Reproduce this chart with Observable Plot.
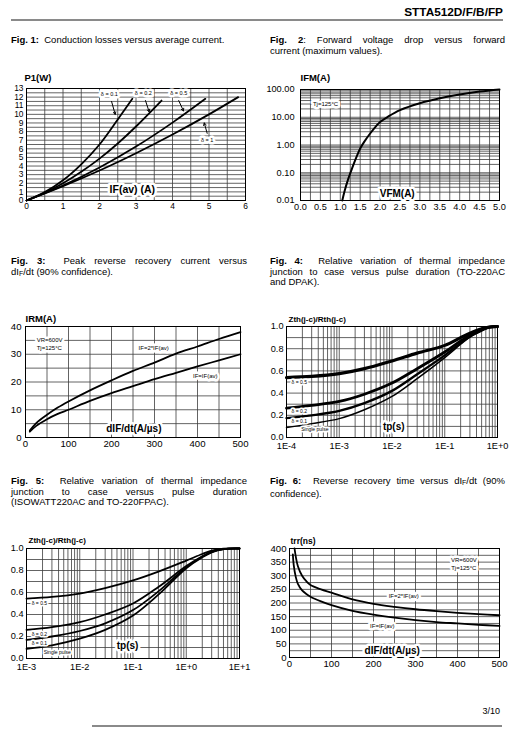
<!DOCTYPE html>
<html><head><meta charset="utf-8">
<script src="https://cdn.jsdelivr.net/npm/d3@7"></script>
<script src="https://cdn.jsdelivr.net/npm/@observablehq/plot@0.6"></script>
<style>
body{margin:0;background:#fff;font-family:"Liberation Sans",Arial,sans-serif;color:#000;}
#page{position:relative;width:527px;height:729px;overflow:hidden;background:#fff;}
.hdr{position:absolute;right:24px;top:5px;font-weight:bold;font-size:11.8px;}
.rule{position:absolute;height:2px;background:#8a8a8a;}
.cap{position:absolute;font-size:9.5px;line-height:10.6px;}
.cap div{text-align:justify;text-align-last:justify;white-space:nowrap;}
.cap div.last{text-align:left;text-align-last:left;}
.chart{position:absolute;}
.pg{position:absolute;right:27px;top:706px;font-size:9px;}
</style></head><body><div id="page">
<div class="hdr">STTA512D/F/B/FP</div>
<div class="rule" style="left:11px;width:492px;top:19px;"></div>

<div class="cap" style="left:11px;top:35px;width:236px;"><div class="last"><b>Fig. 1:</b>&nbsp; Conduction losses versus average current.</div></div>
<div class="cap" style="left:270px;top:35px;width:235px;"><div><b>Fig. 2</b>: Forward voltage drop versus forward</div><div class="last">current (maximum values).</div></div>
<div class="cap" style="left:11px;top:256px;width:236px;"><div><b>Fig. 3:</b>&nbsp; Peak reverse recovery current versus</div><div class="last">dI<sub style="font-size:7px;vertical-align:-1px">F</sub>/dt (90% confidence).</div></div>
<div class="cap" style="left:270px;top:256px;width:235px;"><div><b>Fig. 4:</b>&nbsp; Relative variation of thermal impedance</div><div>junction to case versus pulse duration (TO-220AC</div><div class="last">and DPAK).</div></div>
<div class="cap" style="left:11px;top:476px;width:236px;"><div><b>Fig. 5:</b>&nbsp; Relative variation of thermal impedance</div><div>junction to case versus pulse duration</div><div class="last">(ISOWATT220AC and TO-220FPAC).</div></div>
<div class="cap" style="left:270px;top:476px;width:235px;"><div><b>Fig. 6:</b>&nbsp; Reverse recovery time versus dI<sub style="font-size:7px;vertical-align:-1px">F</sub>/dt (90%</div><div class="last">confidence).</div></div>

<div class="pg">3/10</div>
<div class="rule" style="left:92px;width:410px;top:725px;"></div>
</div>
<script>
// ---------- Fig. 1 data: conduction losses P1(W) vs IF(av)(A)
const f1Labels = ["δ = 0.1", "δ = 0.2", "δ = 0.5", "δ = 1"];
const f1IF_d01 = [0, 0.5, 1, 1.5, 2, 2.5, 2.9];
const f1P_d01  = [0, 0.97, 2.35, 4.2, 6.5, 9.4, 11.8];
const f1IF_d02 = [0, 0.5, 1, 1.5, 2, 2.5, 3, 3.7];
const f1P_d02  = [0, 0.89, 2.0, 3.33, 4.86, 6.62, 8.59, 11.6];
const f1IF_d05 = [0, 1, 2, 3, 4, 4.9];
const f1P_d05  = [0, 1.74, 3.83, 6.26, 9.04, 11.8];
const f1IF_d1  = [0, 1, 2, 3, 4, 5, 5.8];
const f1P_d1   = [0, 1.66, 3.48, 5.49, 7.66, 10.0, 12.0];
const f1XTicks = [0, 1, 2, 3, 4, 5, 6];
const f1YTicks = [0,1,2,3,4,5,6,7,8,9,10,11,12,13];
// label anchors (data units)
const f1LabX = [2.27, 3.2, 4.17, 4.95];
const f1LabY = [12.3, 12.4, 12.4, 7.0];
const f1ArrX1 = [2.33, 3.26, 4.17, 4.95];
const f1ArrY1 = [11.5, 11.6, 11.6, 7.8];
const f1ArrX2 = [2.43, 3.36, 4.3, 4.87];
const f1ArrY2 = [10.0, 10.3, 10.4, 9.0];

// ---------- Fig. 2 data: IFM(A) vs VFM
const f2V = [1.05, 1.1, 1.2, 1.3, 1.4, 1.5, 1.6, 1.75, 1.9, 2.0, 2.2, 2.5, 3.0, 3.5, 4.0, 4.5, 5.0];
const f2I = [0.01, 0.02, 0.06, 0.15, 0.35, 0.75, 1.3, 2.6, 4.8, 6.8, 10.5, 18, 32, 48, 66, 84, 100];
const f2XTicks = [0, 0.5, 1, 1.5, 2, 2.5, 3, 3.5, 4, 4.5, 5];
const f2YTicks = [0.01, 0.1, 1, 10, 100];

// ---------- Fig. 3 data: IRM(A) vs dIF/dt
const f3Names = ["IF=2*IF(av)", "IF=IF(av)"];
const f3X = [10, 25, 50, 75, 100, 150, 200, 250, 300, 350, 400, 450, 500];
const f3IRM_2x = [2.5, 5.2, 8.2, 10.8, 13, 17, 20.6, 24, 27, 30.2, 32.8, 35.5, 38];
const f3IRM_1x = [2.1, 4.2, 6.6, 8.5, 10, 13.2, 16, 18.5, 21, 23.3, 25.6, 27.8, 30];
const f3XTicks = [0, 100, 200, 300, 400, 500];
const f3YTicks = [0, 10, 20, 30, 40];

// ---------- Fig. 4 data: Zth/Rth vs tp (TO-220AC, DPAK)
const f4Names = ["δ = 0.5", "δ = 0.2", "δ = 0.1", "Single pulse"];
const f4Tp = [1e-4, 3e-4, 1e-3, 3e-3, 1e-2, 3e-2, 1e-1, 2e-1, 3e-1, 5e-1, 7e-1, 1];
const f4Z_d05 = [0.54, 0.55, 0.575, 0.62, 0.69, 0.76, 0.83, 0.9, 0.94, 0.98, 0.995, 1.0];
const f4Z_d02 = [0.265, 0.29, 0.325, 0.39, 0.49, 0.62, 0.77, 0.87, 0.92, 0.97, 0.995, 1.0];
const f4Z_d01 = [0.175, 0.2, 0.24, 0.31, 0.42, 0.57, 0.74, 0.85, 0.91, 0.965, 0.995, 1.0];
const f4Z_sp  = [0.09, 0.125, 0.17, 0.25, 0.37, 0.53, 0.72, 0.84, 0.905, 0.96, 0.995, 1.0];
const f4XTicks = [1e-4, 1e-3, 1e-2, 1e-1, 1];
const f4XLabels = ["1E-4", "1E-3", "1E-2", "1E-1", "1E+0"];
const f4YTicks = [0, 0.2, 0.4, 0.6, 0.8, 1.0];

// ---------- Fig. 5 data: Zth/Rth vs tp (ISOWATT220AC, TO-220FPAC)
const f5Tp = [1e-3, 3e-3, 1e-2, 3e-2, 1e-1, 3e-1, 1, 2, 3, 5, 10];
const f5Z_d05 = [0.545, 0.56, 0.59, 0.64, 0.71, 0.79, 0.89, 0.95, 0.98, 0.998, 1.0];
const f5Z_d02 = [0.26, 0.285, 0.33, 0.40, 0.50, 0.65, 0.84, 0.93, 0.97, 0.995, 1.0];
const f5Z_d01 = [0.17, 0.2, 0.25, 0.32, 0.44, 0.61, 0.83, 0.925, 0.97, 0.995, 1.0];
const f5Z_sp  = [0.088, 0.12, 0.18, 0.26, 0.39, 0.58, 0.82, 0.92, 0.965, 0.995, 1.0];
const f5XTicks = [1e-3, 1e-2, 1e-1, 1, 10];
const f5XLabels = ["1E-3", "1E-2", "1E-1", "1E+0", "1E+1"];

// ---------- Fig. 6 data: trr(ns) vs dIF/dt
const f6X_2x = [12, 15, 20, 30, 40, 50, 75, 100, 150, 200, 250, 300, 350, 400, 450, 500];
const f6T_2x = [400, 370, 335, 300, 280, 266, 250, 238, 213, 197, 186, 177, 170, 164, 159, 155];
const f6X_1x = [8, 10, 15, 20, 30, 40, 50, 75, 100, 150, 200, 250, 300, 350, 400, 450, 500];
const f6T_1x = [378, 340, 295, 270, 246, 233, 223, 206, 192, 171, 157, 146, 137, 130, 125, 120, 116];
const f6XTicks = [0, 100, 200, 300, 400, 500];
const f6YTicks = [0, 50, 100, 150, 200, 250, 300, 350, 400];

// ---------- helpers
const FONT = "'Liberation Sans', Arial, sans-serif";
const grid = {stroke: "#3c3c3c", strokeWidth: 0.8};
const rows = (xs, ys, k) => xs.map((x, i) => ({x, y: ys[i], k}));
const style = fs => ({fontFamily: FONT, fontSize: fs + "px", color: "#000", background: "transparent", overflow: "visible"});
const CURVE = "catmull-rom";
function place(svg, left, top) {
  const d = document.createElement("div");
  d.className = "chart"; d.style.left = left + "px"; d.style.top = top + "px";
  d.append(svg); document.getElementById("page").append(d);
}
function title(t, dy, fs, dx = 0) {
  return Plot.text([t], {frameAnchor: "top-left", text: d => d, dx, dy, textAnchor: "start", fontWeight: "bold", fontSize: fs, fill: "black"});
}
function boxText(data, o) {
  return Plot.text(data, {fill: "black", stroke: "white", strokeWidth: 5, strokeLinejoin: "round", paintOrder: "stroke", ...o});
}
const logGrid = (e0, e1) => d3.range(e0, e1).flatMap(e => d3.range(1, 10).map(m => m * Math.pow(10, e))).concat([Math.pow(10, e1)]);

// ---------- Fig. 1
{
  const data = [
    ...rows(f1IF_d01, f1P_d01, f1Labels[0]), ...rows(f1IF_d02, f1P_d02, f1Labels[1]),
    ...rows(f1IF_d05, f1P_d05, f1Labels[2]), ...rows(f1IF_d1, f1P_d1, f1Labels[3])];
  const labs = f1Labels.map((t, i) => ({t, x: f1LabX[i], y: f1LabY[i], x1: f1ArrX1[i], y1: f1ArrY1[i], x2: f1ArrX2[i], y2: f1ArrY2[i]}));
  place(Plot.plot({
    width: 258, height: 158, marginLeft: 26, marginRight: 13, marginTop: 28, marginBottom: 18,
    style: style(8.4),
    x: {domain: [0, 6], ticks: f1XTicks, tickFormat: d3.format("d"), tickSize: 0, tickPadding: 3, label: null},
    y: {domain: [0, 13], ticks: f1YTicks, tickFormat: d3.format("d"), tickSize: 0, tickPadding: 3, label: null},
    marks: [
      Plot.ruleX(d3.range(0, 6.01, 0.5), grid),
      Plot.ruleY(d3.range(0, 13.01, 0.5), grid),
      Plot.frame({stroke: "black"}),
      Plot.line(data, {x: "x", y: "y", z: "k", stroke: "black", strokeWidth: 1.8, curve: CURVE}),
      Plot.arrow(labs, {x1: "x1", y1: "y1", x2: "x2", y2: "y2", stroke: "black", strokeWidth: 1, headLength: 4}),
      boxText(labs, {x: "x", y: "y", text: "t", fontSize: 5.5}),
      boxText(["IF(av) (A)"], {x: [2.9], y: [1.25], text: d => d, fontSize: 10.5, fontWeight: "bold"}),
      title("P1(W)", -14, 9.5, -2)
    ]
  }), 0, 60);
}

// ---------- Fig. 2
{
  const data = rows(f2V, f2I, "IFM");
  place(Plot.plot({
    width: 262, height: 160, marginLeft: 40, marginRight: 23, marginTop: 29, marginBottom: 20,
    style: style(9.2),
    x: {domain: [0, 5], ticks: f2XTicks, tickFormat: d3.format(".1f"), tickSize: 0, tickPadding: 3, label: null},
    y: {type: "log", domain: [0.01, 100], ticks: f2YTicks, tickFormat: d3.format(".2f"), tickSize: 0, tickPadding: 6, label: null},
    marks: [
      Plot.ruleX(d3.range(0, 5.01, 0.25), grid),
      Plot.ruleY(logGrid(-2, 2), grid),
      Plot.frame({stroke: "black"}),
      Plot.line(data, {x: "x", y: "y", stroke: "black", strokeWidth: 2, curve: CURVE}),
      boxText(["Tj=125°C"], {x: [0.63], y: [30], text: d => d, fontSize: 6}),
      boxText(["VFM(A)"], {x: [2.43], y: [0.017], text: d => d, fontSize: 10, fontWeight: "bold"}),
      title("IFM(A)", -15, 9.5)
    ]
  }), 260, 60);
}

// ---------- Fig. 3
{
  const data = [...rows(f3X, f3IRM_2x, f3Names[0]), ...rows(f3X, f3IRM_1x, f3Names[1])];
  place(Plot.plot({
    width: 258, height: 157, marginLeft: 25, marginRight: 18, marginTop: 26, marginBottom: 20,
    style: style(9.6),
    x: {domain: [0, 500], ticks: f3XTicks, tickFormat: d3.format("d"), tickSize: 0, tickPadding: 3, label: null},
    y: {domain: [0, 40], ticks: f3YTicks, tickFormat: d3.format("d"), tickSize: 0, tickPadding: 4, label: null},
    marks: [
      Plot.ruleX(d3.range(0, 501, 50), grid),
      Plot.ruleY(d3.range(0, 41, 5), grid),
      Plot.frame({stroke: "black"}),
      Plot.line(data, {x: "x", y: "y", z: "k", stroke: "black", strokeWidth: 1.8, curve: CURVE}),
      boxText(["VR=600V", "Tj=125°C"], {x: [26, 26], y: [35.2, 32.3], text: d => d, fontSize: 6, textAnchor: "start"}),
      boxText(f3Names, {x: [298, 418], y: [32.2, 22], text: d => d, fontSize: 6}),
      boxText(["dIF/dt(A/µs)"], {x: [252], y: [3.1], text: d => d, fontSize: 10, fontWeight: "bold"}),
      title("IRM(A)", -11, 9.5)
    ]
  }), 0, 300);
}

// ---------- Fig. 4
{
  const fmt = d => f4XLabels[f4XTicks.indexOf(d)];
  place(Plot.plot({
    width: 262, height: 157, marginLeft: 26, marginRight: 25, marginTop: 26, marginBottom: 20,
    style: style(9.2),
    x: {type: "log", domain: [1e-4, 1], ticks: f4XTicks, tickFormat: fmt, tickSize: 0, tickPadding: 5, label: null},
    y: {domain: [0, 1], ticks: f4YTicks, tickFormat: d3.format(".1f"), tickSize: 0, tickPadding: 3, label: null},
    marks: [
      Plot.ruleX(logGrid(-4, 0), grid),
      Plot.ruleY(d3.range(0, 1.01, 0.1), grid),
      Plot.frame({stroke: "black"}),
      Plot.line(rows(f4Tp, f4Z_d05, f4Names[0]), {x: "x", y: "y", stroke: "black", strokeWidth: 3.2, curve: CURVE}),
      Plot.line(rows(f4Tp, f4Z_d02, f4Names[1]), {x: "x", y: "y", stroke: "black", strokeWidth: 2.8, curve: CURVE}),
      Plot.line(rows(f4Tp, f4Z_d01, f4Names[2]), {x: "x", y: "y", stroke: "black", strokeWidth: 2.3, curve: CURVE}),
      Plot.line(rows(f4Tp, f4Z_sp, f4Names[3]), {x: "x", y: "y", stroke: "black", strokeWidth: 1.5, curve: CURVE}),
      boxText(f4Names, {x: [1.25e-4, 1.25e-4, 1.25e-4, 1.9e-4], y: [0.5, 0.234, 0.144, 0.07], text: d => d, fontSize: 5, textAnchor: "start", strokeWidth: 3}),
      boxText(["tp(s)"], {x: [0.0108], y: [0.1], text: d => d, fontSize: 10, fontWeight: "bold"}),
      title("Zth(j-c)/Rth(j-c)", -10, 8, 2)
    ]
  }), 260, 300);
}

// ---------- Fig. 5
{
  const fmt = d => f5XLabels[f5XTicks.indexOf(d)];
  place(Plot.plot({
    width: 258, height: 158, marginLeft: 26, marginRight: 19, marginTop: 28, marginBottom: 20,
    style: style(9.2),
    x: {type: "log", domain: [1e-3, 10], ticks: f5XTicks, tickFormat: fmt, tickSize: 0, tickPadding: 5, label: null},
    y: {domain: [0, 1], ticks: f4YTicks, tickFormat: d3.format(".1f"), tickSize: 0, tickPadding: 3, label: null},
    marks: [
      Plot.ruleX(logGrid(-3, 1), grid),
      Plot.ruleY(d3.range(0, 1.01, 0.1), grid),
      Plot.frame({stroke: "black"}),
      Plot.line(rows(f5Tp, f5Z_d05, f4Names[0]), {x: "x", y: "y", stroke: "black", strokeWidth: 1.8, curve: CURVE}),
      Plot.line(rows(f5Tp, f5Z_d02, f4Names[1]), {x: "x", y: "y", stroke: "black", strokeWidth: 1.8, curve: CURVE}),
      Plot.line(rows(f5Tp, f5Z_d01, f4Names[2]), {x: "x", y: "y", stroke: "black", strokeWidth: 1.8, curve: CURVE}),
      Plot.line(rows(f5Tp, f5Z_sp, f4Names[3]), {x: "x", y: "y", stroke: "black", strokeWidth: 1.8, curve: CURVE}),
      boxText(f4Names, {x: [1.25e-3, 1.25e-3, 1.25e-3, 2.1e-3], y: [0.5, 0.22, 0.14, 0.057], text: d => d, fontSize: 5, textAnchor: "start", strokeWidth: 3}),
      boxText(["tp(s)"], {x: [0.079], y: [0.12], text: d => d, fontSize: 10, fontWeight: "bold"}),
      title("Zth(j-c)/Rth(j-c)", -11, 8, 2)
    ]
  }), 0, 520);
}

// ---------- Fig. 6
{
  const data = [...rows(f6X_2x, f6T_2x, f3Names[0]), ...rows(f6X_1x, f6T_1x, f3Names[1])];
  place(Plot.plot({
    width: 262, height: 157, marginLeft: 29, marginRight: 23, marginTop: 28, marginBottom: 20,
    style: style(9.6),
    x: {domain: [0, 500], ticks: f6XTicks, tickFormat: d3.format("d"), tickSize: 0, tickPadding: 3, label: null},
    y: {domain: [0, 400], ticks: f6YTicks, tickFormat: d3.format("d"), tickSize: 0, tickPadding: 3, label: null},
    marks: [
      Plot.ruleX(d3.range(0, 501, 50), grid),
      Plot.ruleY(d3.range(0, 401, 25), grid),
      Plot.frame({stroke: "black"}),
      Plot.line(data, {x: "x", y: "y", z: "k", stroke: "black", strokeWidth: 1.8, curve: CURVE}),
      boxText(["VR=600V", "Tj=125°C"], {x: [415, 415], y: [358, 329], text: d => d, fontSize: 6}),
      boxText(f3Names, {x: [272, 221], y: [224, 114], text: d => d, fontSize: 6}),
      boxText(["dIF/dt(A/µs)"], {x: [244.5], y: [26], text: d => d, fontSize: 10, fontWeight: "bold"}),
      title("trr(ns)", -11, 8.5, 1)
    ]
  }), 260, 520);
}
</script>
</body></html>
